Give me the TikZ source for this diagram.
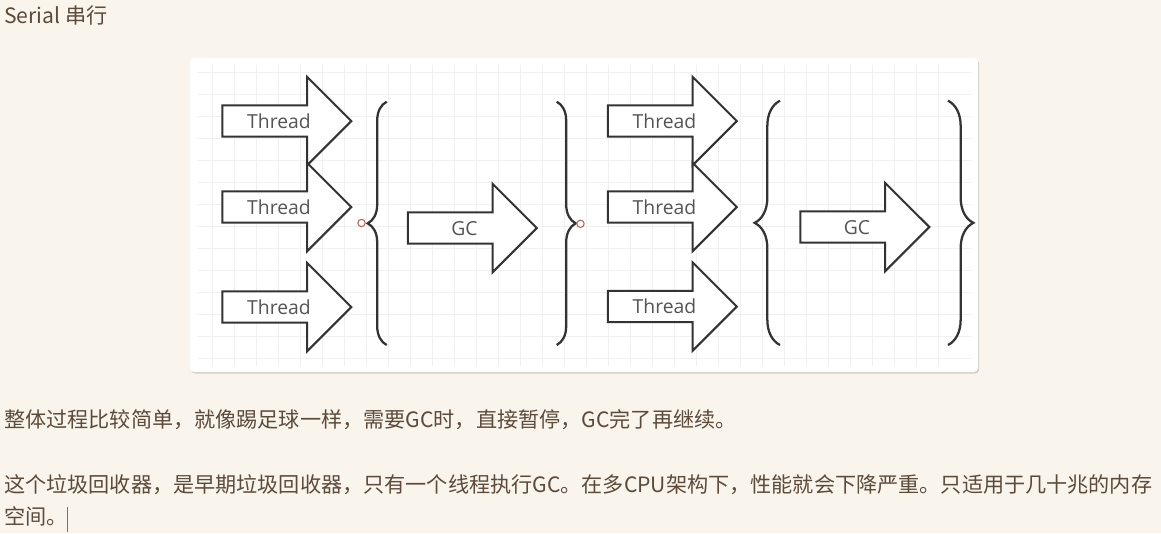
\documentclass[tikz,border=0pt]{standalone}
\usepackage{fontspec}
\newfontfamily\cjkfont{Noto Sans CJK SC}
\newfontfamily\labelfont{Open Sans}
\usetikzlibrary{positioning, shapes.arrows, decorations.pathreplacing, shadows}
\definecolor{pagebg}{RGB}{249,245,237}
\definecolor{bodytext}{RGB}{92,74,58}
\definecolor{inkline}{RGB}{51,51,51}
\definecolor{gridgray}{RGB}{240,240,240}
\definecolor{portred}{RGB}{178,104,84}

\begin{document}
\begin{tikzpicture}[x=0.75pt, y=-0.75pt,
    blockarrow/.style={single arrow, draw=inkline, fill=white, line width=1.5pt,
      single arrow head extend=21.5pt, single arrow tip angle=90,
      minimum height=96.75pt, inner sep=0pt, outer sep=0pt,
      text height=16.3pt, text depth=5.7pt,
      font=\labelfont\fontsize{14.5pt}{14.5pt}\selectfont, text=black!67},
    bracket/.style={draw=inkline, line width=1.7pt, decorate},
    port/.style={circle, draw=portred, fill=white, line width=0.8pt, inner sep=0pt, minimum size=5.5pt},
    para/.style={anchor=base west, inner sep=0pt, text=bodytext,
      font=\cjkfont\fontsize{15.85pt}{15.85pt}\selectfont},
    gridline/.style={draw=gridgray, line width=0.7pt},
    caretline/.style={draw=black!55, line width=0.6pt}]
  \fill[pagebg] (0,0) rectangle (1161,533);
  \useasboundingbox (0,0) rectangle (1161,533);

  \fill[white, rounded corners=3pt, drop shadow={shadow xshift=0.8pt, shadow yshift=-1.2pt, opacity=0.3}]
    (190,58) rectangle (978,372);
  \foreach \gx in {212,234,...,958} \draw[gridline] (\gx,65) -- (\gx,366);
  \foreach \gy in {72,94,...,358} \draw[gridline] (197,\gy) -- (972,\gy);

  \node[blockarrow] (t1) at (279,121) {Thread};
  \node[blockarrow] (t2) at (279,207) {Thread};
  \node[blockarrow] (t3) at (279,307) {Thread};
  \node[blockarrow] (gc1) at (464.5,228) {GC};

  \node[blockarrow] (t4) at (664.5,121) {Thread};
  \node[blockarrow] (t5) at (664.5,207) {Thread};
  \node[blockarrow] (t6) at (664.5,306.5) {Thread};
  \node[blockarrow] (gc2) at (857,227) {GC};

  \coordinate (b1lo) at (386.7,345);
  \coordinate (b1hi) at (386.7,101.7);
  \coordinate (b2hi) at (556.7,101.7);
  \coordinate (b2lo) at (556.7,345);
  \coordinate (b3lo) at (780,345);
  \coordinate (b3hi) at (780,100.7);
  \coordinate (b4hi) at (948,100.7);
  \coordinate (b4lo) at (948,345);
  \draw[bracket, decoration={brace, amplitude=14.25pt}] (b1lo) -- (b1hi);
  \draw[bracket, decoration={brace, amplitude=14.25pt}] (b2hi) -- (b2lo);
  \draw[bracket, decoration={brace, amplitude=19pt}] (b3lo) -- (b3hi);
  \draw[bracket, decoration={brace, amplitude=19pt}] (b4hi) -- (b4lo);

  \node[port] (p1) at (361.5,223) {};
  \node[port] (p2) at (580.5,223.8) {};

  \node[para] (title) at (4,23) {Serial 串行};
  \node[para] (line1) at (4,427) {整体过程比较简单，就像踢足球一样，需要GC时，直接暂停，GC完了再继续。};
  \node[para] (line2) at (4,492) {这个垃圾回收器，是早期垃圾回收器，只有一个线程执行GC。在多CPU架构下，性能就会下降严重。只适用于几十兆的内存};
  \node[para] (line3) at (4,524) {空间。};
  \coordinate (caret) at (67,507);
  \draw[caretline] (caret) -- ++(0,25);
\end{tikzpicture}
\end{document}
